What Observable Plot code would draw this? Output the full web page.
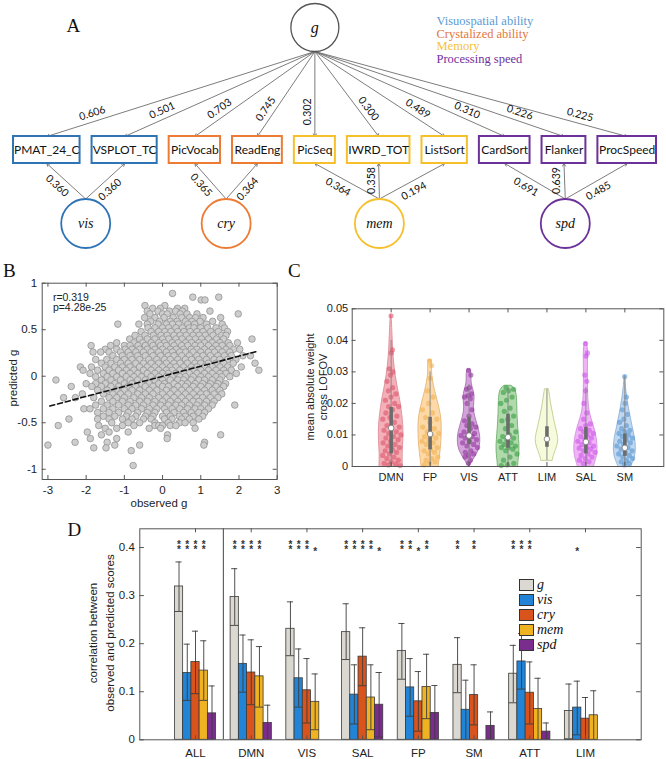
<!DOCTYPE html>
<html><head><meta charset="utf-8">
<script src="https://cdn.jsdelivr.net/npm/d3@7"></script>
<script src="https://cdn.jsdelivr.net/npm/@observablehq/plot@0.6"></script>
<style>
body{margin:0;background:#fff}
#root{position:relative;width:666px;height:759px;overflow:hidden;background:#fff;font-family:"Liberation Sans",Arial,sans-serif}
.panel{position:absolute}
.letter{position:absolute;font-family:"Liberation Serif","Times New Roman",serif;font-size:19px;line-height:19px;color:#111}
.vlab{position:absolute;white-space:nowrap;font-family:"Liberation Sans",Arial,sans-serif;font-size:11px;line-height:12px;color:#222;transform:translate(-50%,-50%) rotate(-90deg)}
.leg{position:absolute;left:519px;top:577px}
.leg .row{display:flex;align-items:center;height:15px}
.leg .sw{width:15px;height:12px;border:1px solid #333;box-sizing:border-box;margin-right:3px}
.leg .tx{font-family:"Liberation Serif","Times New Roman",serif;font-style:italic;font-size:14px;line-height:14px;color:#111}
</style></head><body><div id="root"></div>
<script>
// ================= DATA =================
// Panel A : structural model
const indicators = ["PMAT_24_C","VSPLOT_TC","PicVocab","ReadEng","PicSeq","IWRD_TOT","ListSort","CardSort","Flanker","ProcSpeed"];
const indicatorFactor = ["vis","vis","cry","cry","mem","mem","mem","spd","spd","spd"];
const gLoadings = ["0.606","0.501","0.703","0.745","0.302","0.300","0.489","0.310","0.226","0.225"];
const factorLoadings = ["0.360","0.360","0.365","0.364","0.364","0.358","0.194","0.691","0.639","0.485"];
const factors = ["vis","cry","mem","spd"];
const factorNames = ["Visuospatial ability","Crystalized ability","Memory","Processing speed"];

// Panel B : observed vs predicted g (rows: y | x values)
const scatterRows = `
0.89|0.26
0.85|0.79 1.47
0.82|1.01 1.11
0.76|-0.46 0.06
0.73|-0.26 -0.06 0.39 0.58
0.70|-0.4 -0.12 0.18 0.34 0.52 1.24
0.67|-0.33 0.0 0.12 0.46 0.64 0.9 1.98
0.63|-0.47 -0.2 0.04 0.28 0.5 0.71 0.86 1.06 1.52
0.59|-0.31 -0.08 0.2 0.38 0.6 0.77 0.98 1.31
0.56|-1.17 -0.62 -0.4 -0.12 0.1 0.26 0.42 0.66 0.84 1.15 1.56
0.52|-0.38 -0.2 0.0 0.16 0.35 0.52 0.7 0.82 1.0 1.18 1.4 1.62
0.48|-0.56 -0.3 -0.1 0.06 0.22 0.4 0.56 0.72 0.9 1.06 1.26 1.46 1.7
0.44|-0.72 -0.46 -0.24 -0.04 0.12 0.3 0.46 0.62 0.8 0.96 1.12 1.32 1.55 1.66
0.40|-0.86 -0.6 -0.4 -0.2 0.0 0.16 0.35 0.51 0.7 0.86 1.02 1.2 1.41 1.6 2.34
0.36|-1.2 -0.75 -0.52 -0.3 -0.1 0.05 0.25 0.41 0.6 0.76 0.95 1.1 1.3 1.5 1.72 1.96
0.33|-1.87 -1.36 -1.0 -0.85 -0.64 -0.45 -0.25 -0.05 0.1 0.3 0.5 0.66 0.85 1.0 1.2 1.4 1.56 1.76
0.29|-1.5 -1.2 -0.98 -0.8 -0.6 -0.4 -0.2 0.0 0.2 0.36 0.55 0.75 0.9 1.1 1.3 1.46 1.66 1.86 2.02
0.26|-1.82 -1.62 -1.4 -1.1 -0.9 -0.7 -0.5 -0.3 -0.1 0.1 0.26 0.45 0.6 0.8 1.0 1.2 1.36 1.56 1.76
0.22|-1.3 -1.05 -0.85 -0.65 -0.45 -0.25 -0.05 0.15 0.3 0.5 0.7 0.9 1.06 1.25 1.45 1.62 1.8 2.1 2.3
0.18|-1.75 -1.46 -1.2 -1.0 -0.8 -0.6 -0.36 -0.15 0.05 0.2 0.4 0.6 0.76 0.95 1.15 1.35 1.5 1.7 1.92
0.14|-1.6 -1.35 -1.1 -0.9 -0.7 -0.5 -0.3 -0.1 0.1 0.3 0.46 0.65 0.85 1.0 1.2 1.4 1.6 1.85 2.42
0.10|-2.15 -1.86 -1.5 -1.25 -1.05 -0.85 -0.6 -0.4 -0.2 0.0 0.2 0.35 0.55 0.75 0.9 1.1 1.3 1.5 1.7 2.06
0.065|-2.08 -1.7 -1.4 -1.15 -0.95 -0.75 -0.5 -0.3 -0.1 0.1 0.25 0.45 0.65 0.8 1.0 1.2 1.4 1.6 1.8 2.52
0.03|-1.9 -1.55 -1.3 -1.05 -0.85 -0.65 -0.4 -0.2 0.0 0.15 0.35 0.55 0.7 0.9 1.1 1.3 1.5 1.66 1.93
-0.005|-1.75 -1.45 -1.2 -0.95 -0.75 -0.55 -0.3 -0.1 0.1 0.25 0.45 0.6 0.8 1.0 1.2 1.4 1.55 1.76
-0.04|-2.79 -1.6 -1.35 -1.1 -0.85 -0.65 -0.45 -0.2 0.0 0.2 0.4 0.55 0.75 0.95 1.1 1.3 1.5
-0.08|-2.0 -1.75 -1.5 -1.25 -1.0 -0.8 -0.55 -0.35 -0.1 0.05 0.3 0.5 0.65 0.85 1.05 1.25 1.45 1.65
-0.11|-2.39 -1.85 -1.6 -1.35 -1.15 -0.9 -0.7 -0.45 -0.25 0.0 0.15 0.4 0.6 0.8 1.0 1.2 1.4 1.6
-0.15|-1.7 -1.45 -1.2 -1.0 -0.8 -0.6 -0.35 -0.15 0.1 0.3 0.5 0.7 0.9 1.1 1.3 1.5
-0.19|-2.1 -1.55 -1.3 -1.1 -0.9 -0.65 -0.45 -0.25 0.0 0.2 0.4 0.6 0.8 1.0 1.15 1.35 1.55
-0.23|-2.59 -2.28 -1.8 -1.4 -1.2 -1.0 -0.75 -0.55 -0.35 -0.1 0.1 0.3 0.5 0.7 0.9 1.05 1.25 1.45
-0.27|-1.6 -1.3 -1.05 -0.85 -0.6 -0.4 -0.2 0.0 0.2 0.4 0.6 0.8 0.95 1.15 1.35
-0.31|-1.75 -1.45 -1.15 -0.9 -0.7 -0.5 -0.25 -0.05 0.15 0.35 0.5 0.7 0.9 1.1 1.3 1.89
-0.35|-2.06 -1.9 -1.55 -1.3 -1.0 -0.8 -0.55 -0.35 -0.15 0.05 0.25 0.45 0.65 0.85 1.0 1.2
-0.39|-1.7 -1.4 -1.15 -0.9 -0.65 -0.4 -0.2 0.1 0.3 0.55 0.75 0.95 1.1
-0.43|-1.55 -1.25 -0.95 -0.7 -0.45 -0.25 0.0 0.2 0.44 0.6 0.8 1.05
-0.46|-2.45 -1.7 -1.4 -1.05 -0.8 -0.5 -0.3 0.05 0.25 0.5 0.7 0.95
-0.50|-1.33 -0.9 -0.6 -0.2 0.15 0.44 0.59 0.8
-0.53|-2.73 -1.67 -1.05 -0.75 -0.2 -0.1 0.0 0.2 0.35
-0.56|-1.5 -1.2 -0.35 -0.05 0.85
-0.60|-1.97 -1.4 -0.9
-0.63|-1.6 0.13 1.52
-0.67|-1.89 -1.2 0.12
-0.71|-2.29 -1.45 1.1
-0.74|-3.0 -1.25 -0.6 1.08
-0.77|-1.8 -1.48
-0.80|-0.82
-0.96|-0.77`;
const fitLine = [{x: -2.95, y: -0.32}, {x: 2.5, y: 0.27}];
const statR = "r=0.319";
const statP = "p=4.28e-25";
const bTicksX = [-3, -2, -1, 0, 1, 2, 3];
const bTicksY = [-1, -0.5, 0, 0.5, 1];

// Panel C : violins (profile rows: [value, half-width in category units])
const violinCats = ["DMN","FP","VIS","ATT","LIM","SAL","SM"];
const shapeDMN = [[0,0.3],[0.004,0.29],[0.008,0.315],[0.0125,0.32],[0.0165,0.285],[0.0208,0.24],[0.026,0.15],[0.0314,0.085],[0.0366,0.05],[0.042,0.034],[0.046,0.02],[0.048,0.006]];
const shapeFP  = [[0,0.22],[0.002,0.24],[0.006,0.28],[0.0103,0.3],[0.0145,0.3],[0.0177,0.26],[0.0219,0.17],[0.026,0.085],[0.0298,0.043],[0.032,0.055],[0.0337,0.04]];
const shapeVIS = [[0.0004,0.03],[0.0019,0.1],[0.004,0.21],[0.0061,0.28],[0.0093,0.3],[0.0124,0.24],[0.0156,0.155],[0.0187,0.11],[0.0219,0.155],[0.024,0.12],[0.0266,0.05],[0.0293,0.07],[0.0308,0.035]];
const shapeATT = [[0,0.26],[0.0019,0.27],[0.005,0.3],[0.0082,0.29],[0.0124,0.26],[0.0166,0.24],[0.0208,0.24],[0.0245,0.21],[0.0256,0.09]];
const shapeLIM = [[0.0019,0.15],[0.003,0.16],[0.0061,0.26],[0.0082,0.3],[0.0103,0.27],[0.0145,0.19],[0.0187,0.12],[0.023,0.07],[0.0245,0.05]];
const shapeSAL = [[0,0.21],[0.0014,0.24],[0.004,0.3],[0.0072,0.3],[0.0103,0.26],[0.0135,0.19],[0.0166,0.1],[0.0208,0.06],[0.026,0.05],[0.0314,0.05],[0.0366,0.06],[0.0393,0.03]];
const shapeSM  = [[0,0.17],[0.0008,0.19],[0.003,0.27],[0.0061,0.29],[0.0093,0.26],[0.0124,0.2],[0.0156,0.15],[0.0187,0.1],[0.0219,0.06],[0.025,0.025],[0.0287,0.01]];
const pointsDMN = [0.0478,0.037,0.036,0.031,0.03,0.029,0.027,0.025,0.024,0.023,0.022,0.021,0.02,0.019,0.019,0.018,0.017,0.016,0.0155,0.015,0.014,0.013,0.0125,0.012,0.0115,0.011,0.0105,0.01,0.0095,0.009,0.0085,0.008,0.0075,0.007,0.0065,0.006,0.0055,0.005,0.0045,0.004,0.0035,0.003,0.0025,0.002,0.0015,0.001,0.0008,0.0005,0.0003];
const pointsFP  = [0.0335,0.032,0.028,0.024,0.022,0.02,0.018,0.017,0.0155,0.015,0.014,0.0125,0.012,0.011,0.0105,0.01,0.0095,0.009,0.0085,0.008,0.0075,0.007,0.006,0.0055,0.005,0.0045,0.004,0.003,0.0025,0.002,0.0015,0.001,0.0005];
const pointsVIS = [0.0305,0.029,0.025,0.0245,0.023,0.0225,0.022,0.0215,0.02,0.018,0.016,0.0145,0.0135,0.013,0.0125,0.012,0.011,0.0105,0.01,0.0098,0.0095,0.009,0.0085,0.008,0.0075,0.007,0.0065,0.006,0.005,0.0045,0.004,0.0035,0.003,0.002,0.001];
const pointsATT = [0.025,0.0245,0.024,0.0235,0.022,0.021,0.02,0.0185,0.0175,0.016,0.015,0.0145,0.013,0.012,0.011,0.01,0.0095,0.009,0.0085,0.008,0.0075,0.007,0.0065,0.006,0.006,0.0055,0.005,0.004,0.003,0.002,0.001,0.0005,0.0003];
const pointsLIM = [];
const pointsSAL = [0.039,0.036,0.035,0.029,0.027,0.024,0.02,0.017,0.015,0.0135,0.013,0.012,0.0115,0.011,0.0105,0.01,0.0095,0.009,0.0085,0.008,0.0075,0.007,0.0065,0.006,0.0058,0.0055,0.005,0.0045,0.004,0.0035,0.003,0.0025,0.002,0.0015,0.001];
const pointsSM  = [0.0285,0.022,0.02,0.018,0.0165,0.015,0.014,0.013,0.012,0.0115,0.011,0.0105,0.01,0.0095,0.009,0.0085,0.008,0.0075,0.007,0.0065,0.006,0.0055,0.005,0.0045,0.004,0.0035,0.003,0.0025,0.002,0.0015,0.001,0.0005];
const violinQ1 = [0.004,0.0053,0.0069,0.0058,0.0061,0.004,0.0032];
const violinMedian = [0.0122,0.0103,0.0098,0.0093,0.0087,0.0078,0.0059];
const violinQ3 = [0.0187,0.0156,0.0156,0.0166,0.0126,0.0124,0.0103];
const violinLo = [0,0.0005,0.0005,0.0003,0.0019,0.0005,0.0005];
const violinHi = [0.040,0.030,0.026,0.025,0.0245,0.025,0.0285];
const cTicksY = [0, 0.01, 0.02, 0.03, 0.04, 0.05];

// Panel D : correlation bars
const groupsD = ["ALL","DMN","VIS","SAL","FP","SM","ATT","LIM"];
const seriesD = ["g","vis","cry","mem","spd"];
const meanG   = [0.319,0.297,0.231,0.224,0.185,0.156,0.1375,0.060];
const lowG    = [0.267,0.238,0.175,0.167,0.126,0.098,0.077,0.002];
const highG   = [0.370,0.356,0.287,0.283,0.242,0.2125,0.1965,0.116];
const meanVis = [0.139,0.158,0.128,0.094,0.109,0.0625,0.163,0.067];
const lowVis  = [0.082,0.099,0.068,0.033,0.049,0.0,0.1055,0.0104];
const highVis = [0.199,0.218,0.189,0.156,0.169,0.124,0.221,0.122];
const meanCry = [0.162,0.140,0.103,0.173,0.080,0.093,0.098,0.044];
const lowCry  = [0.096,0.073,0.035,0.1125,0.018,0.031,0.033,0];
const highCry = [0.226,0.208,0.169,0.233,0.142,0.156,0.162,0.088];
const meanMem = [0.144,0.132,0.079,0.088,0.110,null,0.064,0.051];
const lowMem  = [0.082,0.068,0.021,0.021,0.044,null,0,0];
const highMem = [0.206,0.194,0.137,0.156,0.178,null,0.128,0.102];
const meanSpd = [0.055,0.035,null,0.073,0.056,0.029,0.017,null];
const lowSpd  = [0,0,null,0.006,0,0,0,null];
const highSpd = [0.112,0.072,null,0.140,0.113,0.058,0.035,null];
const sigG   = [2,2,2,2,2,2,2,0];
const sigVis = [2,2,2,2,2,0,2,1];
const sigCry = [2,2,2,2,1,2,2,0];
const sigMem = [2,2,1,2,2,0,0,0];
const sigSpd = [0,0,0,1,0,0,0,0];
const dTicksY = [0, 0.1, 0.2, 0.3, 0.4];

// ================= STYLE =================
const factorColor = {vis:"#2f74b5", cry:"#ec7c34", mem:"#f6c02c", spd:"#6b3399"};
const legendColorA = ["#5b9bd5","#e2763d","#f3c240","#7030a0"];
const violinFill = ["#f4b0b8","#fcd9a6","#d5a3dc","#b0d9ac","#f6fbdb","#f0b3f7","#c0d7ef"];
const violinStroke = ["#dc8f99","#e6b677","#a873b1","#72b06e","#c4c88f","#d58de1","#8fb2d8"];
const violinDot = ["#d84a62","#f2ad48","#8a2a98","#2e993a","#cccc66","#c94ee8","#4d8fd0"];
const seriesColor = ["#dbd7d1","#2184d6","#d9531c","#efb322","#7b2d8d"];
const frameColor = "#555";
const baseStyle = {fontFamily: '"Liberation Sans", Arial, sans-serif', fontSize: "11px", color: "#222", background: "transparent", overflow: "visible"};

const root = document.getElementById("root");
function place(svg, left, top) {
  svg.classList.add("panel");
  svg.style.left = left + "px";
  svg.style.top = top + "px";
  root.appendChild(svg);
  return svg;
}
function vLabel(text, cx, cy, size) {
  const d = document.createElement("div");
  d.className = "vlab"; d.textContent = text;
  d.style.left = cx + "px"; d.style.top = cy + "px";
  if (size) d.style.fontSize = size + "px";
  root.appendChild(d);
}
function innerTicks(xTicks, yTicks, xDom, yDom, xLen, yLen) {
  const [x0, x1] = xDom, [y0, y1] = yDom;
  return [
    Plot.ruleX(xTicks, {x: d => d, y1: () => y0, y2: () => y0 + yLen, stroke: frameColor}),
    Plot.ruleX(xTicks, {x: d => d, y1: () => y1, y2: () => y1 - yLen, stroke: frameColor}),
    Plot.ruleY(yTicks, {y: d => d, x1: () => x0, x2: () => x0 + xLen, stroke: frameColor}),
    Plot.ruleY(yTicks, {y: d => d, x1: () => x1, x2: () => x1 - xLen, stroke: frameColor})
  ];
}

// ================= PANEL A =================
const A_H = 258;
const gCenterY = 27, gR = 24;
const boxY1 = 136, boxY2 = 163;
const facY = 223, facR = 24.5;
const boxLeft = 13, boxRight = 656, boxGap = 12, boxTextTotal = 421;
const ctx = document.createElement("canvas").getContext("2d");
ctx.font = "12px Lato";
const tw = indicators.map(s => ctx.measureText(s).width);
const squeeze = boxTextTotal / d3.sum(tw);
const boxPad = (boxRight - boxLeft - boxGap * (indicators.length - 1) - boxTextTotal) / indicators.length;
let cursor = boxLeft;
const boxes = indicators.map((name, i) => {
  const w = tw[i] * squeeze + boxPad;
  const b = {name, factor: indicatorFactor[i], x1: cursor, x2: cursor + w, cx: cursor + w / 2, textLen: tw[i] * squeeze};
  cursor += w + boxGap;
  return b;
});
const facs = factors.map(f => ({f, cx: d3.mean(boxes.filter(b => b.factor === f), b => b.cx)}));
const gx = boxes[4].cx, gApexY = gCenterY + gR;

function placeLabel(ax, ay, bx, by, mode, text) {
  const dx = bx - ax, dy = by - ay, L = Math.hypot(dx, dy);
  const ux = dx / L, uy = dy / L;
  const vertical = Math.abs(ux) < 0.05;
  let t, off, nx, ny;
  if (mode === "g") {
    t = vertical ? 0.71 : 0.68 + 0.0005 * L; off = vertical ? 7.5 : 8.5;
    if (vertical) { nx = -1; ny = 0; } else { nx = Math.sign(ux) * uy; ny = -Math.abs(ux); }
  } else {
    t = vertical ? 0.52 : (ux < 0 ? 0.57 : 0.46); off = vertical ? 7.5 : 9.5;
    if (vertical) { nx = -1; ny = 0; } else { nx = Math.sign(ux) * Math.abs(uy); ny = Math.abs(ux); }
  }
  const vx = ux >= 0 ? ux : -ux, vy = ux >= 0 ? uy : -uy;
  const angle = vertical ? -90 : Math.atan2(vy, vx) * 180 / Math.PI;
  return {lx: ax + t * dx + off * nx, ly: ay + t * dy + off * ny, angle, text};
}
const gArrows = boxes.map((b, i) => ({x1: gx, y1: gApexY, x2: b.cx, y2: boxY1, ...placeLabel(gx, gApexY, b.cx, boxY1, "g", gLoadings[i])}));
const fArrows = boxes.map((b, i) => {
  const fc = facs.find(f => f.f === b.factor).cx;
  return {x1: fc, y1: facY - facR, x2: b.cx, y2: boxY2, ...placeLabel(fc, facY - facR, b.cx, boxY2, "f", factorLoadings[i])};
});

const plotA = Plot.plot({
  width: 666, height: A_H, margin: 0,
  x: {domain: [0, 666], range: [0, 666], axis: null},
  y: {domain: [0, A_H], range: [0, A_H], axis: null},
  color: {type: "identity"},
  style: baseStyle,
  marks: [
    Plot.arrow(gArrows, {x1: "x1", y1: "y1", x2: "x2", y2: "y2", stroke: "#6e6e6e", strokeWidth: 0.9, headLength: 5}),
    Plot.arrow(fArrows, {x1: "x1", y1: "y1", x2: "x2", y2: "y2", stroke: "#6e6e6e", strokeWidth: 0.9, headLength: 5}),
    Plot.rect(boxes, {x1: "x1", x2: "x2", y1: () => boxY1, y2: () => boxY2, fill: "white", stroke: d => factorColor[d.factor], strokeWidth: 2}),
    Plot.text(boxes, {x: "cx", y: () => (boxY1 + boxY2) / 2, text: "name", fontFamily: "Lato", fontSize: 12, fill: "#111", ariaLabel: "boxnames"}),
    Plot.dot(["g"], {x: () => gx, y: () => gCenterY, r: gR, fill: "white", stroke: "#555", strokeWidth: 1.3}),
    Plot.text(["g"], {x: () => gx, y: () => gCenterY, text: d => d, fontFamily: "Liberation Serif", fontStyle: "italic", fontSize: 16, fill: "#111"}),
    Plot.dot(facs, {x: "cx", y: () => facY, r: facR, fill: "white", stroke: d => factorColor[d.f], strokeWidth: 1.8}),
    Plot.text(facs, {x: "cx", y: () => facY, text: "f", fontFamily: "Liberation Serif", fontStyle: "italic", fontSize: 14, fill: "#111"}),
    Plot.text(gArrows, {x: "lx", y: "ly", rotate: "angle", text: "text", fontFamily: "Lato", fontSize: 10.5, fill: "#111"}),
    Plot.text(fArrows, {x: "lx", y: "ly", rotate: "angle", text: "text", fontFamily: "Lato", fontSize: 10.5, fill: "#111"}),
    Plot.text(factorNames, {x: () => 436, y: (d, i) => 20.5 + 12.5 * i, text: d => d, textAnchor: "start", fill: (d, i) => legendColorA[i], fontFamily: "Liberation Serif", fontSize: 12.5})
  ]
});
place(plotA, 0, 0);
plotA.querySelectorAll('g[aria-label="boxnames"] text').forEach((el, i) => {
  el.setAttribute("textLength", boxes[i].textLen.toFixed(1));
  el.setAttribute("lengthAdjust", "spacingAndGlyphs");
});

// ================= PANEL B =================
const scatterPoints = scatterRows.trim().split("\n").flatMap(line => {
  const [y, xs] = line.split("|");
  return xs.trim().split(/\s+/).map(x => ({x: +x, y: +y}));
});
const bX = [-3.15, 3], bY = [-1.11, 1];
const plotB = Plot.plot({
  width: 290, height: 240, marginLeft: 41.7, marginTop: 12.7, marginRight: 13.3, marginBottom: 31,
  x: {domain: bX, axis: null}, y: {domain: bY, axis: null},
  style: baseStyle,
  marks: [
    Plot.dot(scatterPoints, {x: "x", y: "y", r: 3.3, fill: "#cdcdcd", stroke: "#939393", strokeWidth: 0.8}),
    Plot.line(fitLine, {x: "x", y: "y", stroke: "#111", strokeWidth: 1.6, strokeDasharray: "5,3"}),
    Plot.frame({stroke: frameColor}),
    ...innerTicks(bTicksX, bTicksY, bX, bY, 0.105, 0.043),
    Plot.axisX(bTicksX, {tickSize: 0, tickPadding: 6, tickFormat: d => String(d), label: null, fontSize: 11.5}),
    Plot.axisY(bTicksY, {tickSize: 0, tickPadding: 5, tickFormat: d => String(d), label: null, fontSize: 11.5}),
    Plot.text([statR], {x: () => -2.87, y: () => 0.84, text: d => d, textAnchor: "start", fontSize: 10.5}),
    Plot.text([statP], {x: () => -2.87, y: () => 0.74, text: d => d, textAnchor: "start", fontSize: 10.5})
  ]
});
place(plotB, 0, 270);
const obsLab = document.createElement("div");
obsLab.textContent = "observed g";
obsLab.style.cssText = "position:absolute;left:159px;top:503px;transform:translate(-50%,-50%);font-size:11.5px;white-space:nowrap;color:#222";
root.appendChild(obsLab);
vLabel("predicted g", 13, 378, 11.5);

// ================= PANEL C =================
const shapes = [shapeDMN, shapeFP, shapeVIS, shapeATT, shapeLIM, shapeSAL, shapeSM];
const vPoints = [pointsDMN, pointsFP, pointsVIS, pointsATT, pointsLIM, pointsSAL, pointsSM];
const halfWidthAt = (shape, v) => {
  const ys = shape.map(d => d[0]), ws = shape.map(d => d[1]);
  if (v <= ys[0]) return ws[0];
  if (v >= ys[ys.length - 1]) return ws[ws.length - 1];
  const k = d3.bisectRight(ys, v);
  const f = (v - ys[k - 1]) / (ys[k] - ys[k - 1]);
  return ws[k - 1] + f * (ws[k] - ws[k - 1]);
};
const cX = [0, 8], cY = [0, 0.05];
const violinMarks = violinCats.flatMap((cat, ci) => {
  const c = ci + 1;
  const prof = shapes[ci].map(([y, w]) => ({y, x1: c - w, x2: c + w}));
  const pts = vPoints[ci].map((y, i) => {
    const s = ((i * 0.618034 + 0.31) % 1) * 2 - 1;
    return {x: c + s * 0.8 * halfWidthAt(shapes[ci], y), y};
  });
  return [
    Plot.areaX(prof, {y: "y", x1: "x1", x2: "x2", curve: "basis", fill: violinFill[ci], stroke: violinStroke[ci], strokeWidth: 0.9}),
    Plot.dot(pts, {x: "x", y: "y", r: 2.6, fill: violinDot[ci], fillOpacity: 0.55})
  ];
});
const boxStats = violinCats.map((cat, i) => ({x: i + 1, q1: violinQ1[i], med: violinMedian[i], q3: violinQ3[i], lo: violinLo[i], hi: violinHi[i]}));
const plotC = Plot.plot({
  width: 371, height: 240, marginLeft: 56.7, marginTop: 38.3, marginRight: 2.7, marginBottom: 44,
  x: {domain: cX, axis: null}, y: {domain: cY, axis: null},
  style: baseStyle,
  marks: [
    ...violinMarks,
    Plot.ruleX(boxStats, {x: "x", y1: "lo", y2: "hi", stroke: "#8a8a8a", strokeWidth: 1}),
    Plot.ruleX(boxStats, {x: "x", y1: "q1", y2: "q3", stroke: "#6c6c6c", strokeWidth: 3.6}),
    Plot.dot(boxStats, {x: "x", y: "med", r: 2.8, fill: "white", stroke: "#777", strokeWidth: 0.8}),
    Plot.frame({stroke: frameColor}),
    ...innerTicks(violinCats.map((d, i) => i + 1), cTicksY, cX, cY, 0.1, 0.0013),
    Plot.axisY(cTicksY, {tickSize: 0, tickPadding: 4, tickFormat: d => String(d), label: null, fontSize: 11}),
    Plot.text(violinCats, {x: (d, i) => i + 1, y: () => 0, dy: 11, text: d => d, lineAnchor: "middle", fontSize: 11})
  ]
});
place(plotC, 295, 270);
vLabel("mean absolute weight", 310, 387);
vLabel("cross LOFOV", 322.5, 387);

// ================= PANEL D =================
const seriesMeans = [meanG, meanVis, meanCry, meanMem, meanSpd];
const seriesLows = [lowG, lowVis, lowCry, lowMem, lowSpd];
const seriesHighs = [highG, highVis, highCry, highMem, highSpd];
const seriesSig = [sigG, sigVis, sigCry, sigMem, sigSpd];
const groupHalf = 0.37, barW = 0.148, capHalf = 0.055;
const barRows = [];
groupsD.forEach((grp, gi) => seriesD.forEach((s, si) => {
  const x1 = gi + 1 - groupHalf + si * barW;
  barRows.push({grp, s, si, x1, x2: x1 + barW, cx: x1 + barW / 2,
    v: seriesMeans[si][gi], lo: seriesLows[si][gi], hi: seriesHighs[si][gi], sig: seriesSig[si][gi]});
}));
const bars = barRows.filter(d => d.v != null);
const dX = [0, 9], dY = [0, 0.439];
const starY = 0.4, starSize = 10, starLine = 0.5;
const plotD = Plot.plot({
  width: 606, height: 244, marginLeft: 79.3, marginTop: 13.3, marginRight: 25.3, marginBottom: 19.7,
  x: {domain: dX, axis: null}, y: {domain: dY, axis: null},
  style: baseStyle,
  marks: [
    Plot.rect(bars, {x1: "x1", x2: "x2", y1: () => 0, y2: "v", fill: d => seriesColor[d.si], stroke: "#3a3a3a", strokeWidth: 0.8}),
    Plot.ruleX(bars, {x: "cx", y1: "lo", y2: "hi", stroke: "#3c3c3c", strokeWidth: 0.9}),
    Plot.ruleY(bars, {y: "hi", x1: d => d.cx - capHalf, x2: d => d.cx + capHalf, stroke: "#3c3c3c", strokeWidth: 0.9}),
    Plot.ruleY(bars.filter(d => d.lo > 0), {y: "lo", x1: "x1", x2: "x2", stroke: "#3c3c3c", strokeWidth: 0.9}),
    Plot.text(barRows.filter(d => d.sig === 1), {x: "cx", y: () => starY, dy: 4, text: () => "*", fontSize: starSize, fontWeight: "bold", fill: "#333", lineAnchor: "middle"}),
    Plot.text(barRows.filter(d => d.sig === 2), {x: "cx", y: () => starY, dy: 4 - starSize * starLine / 2, text: () => "*\n*", lineHeight: starLine, fontSize: starSize, fontWeight: "bold", fill: "#333", lineAnchor: "middle"}),
    Plot.ruleX([1.5], {x: d => d, y1: () => dY[0], y2: () => dY[1], stroke: frameColor, strokeWidth: 1.1}),
    Plot.frame({stroke: frameColor}),
    ...innerTicks(groupsD.map((d, i) => i + 1), dTicksY, dX, dY, 0.082, 0.0083),
    Plot.axisY(dTicksY, {tickSize: 0, tickPadding: 5, tickFormat: d => String(d), label: null, fontSize: 11.5}),
    Plot.text(groupsD, {x: (d, i) => i + 1, y: () => 0, dy: 13.5, text: d => d, lineAnchor: "middle", fontSize: 11.5})
  ]
});
place(plotD, 60, 515);
vLabel("correlation between", 93.3, 633, 11.5);
vLabel("observed and predicted scores", 110, 633, 11.5);

// legend D
const leg = document.createElement("div");
leg.className = "leg";
seriesD.forEach((s, i) => {
  const row = document.createElement("div"); row.className = "row";
  const sw = document.createElement("div"); sw.className = "sw"; sw.style.background = seriesColor[i];
  const tx = document.createElement("div"); tx.className = "tx"; tx.textContent = s;
  row.appendChild(sw); row.appendChild(tx); leg.appendChild(row);
});
root.appendChild(leg);

// panel letters
[["A", 66.5, 16], ["B", 3, 261], ["C", 288, 261], ["D", 67.5, 520]].forEach(([t, l, tp]) => {
  const d = document.createElement("div"); d.className = "letter"; d.textContent = t;
  d.style.left = l + "px"; d.style.top = tp + "px"; root.appendChild(d);
});
</script></body></html>
